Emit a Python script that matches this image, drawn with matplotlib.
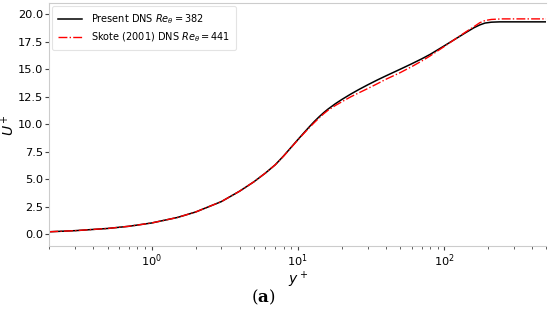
import numpy as np
import matplotlib
matplotlib.use("Agg")
import matplotlib.pyplot as plt

# Present DNS (Re_theta = 382)
yplus_present = [0.2, 0.3, 0.5, 0.7, 1.0, 1.5, 2.0, 3.0, 4.0, 5.0, 6.0, 7.0, 8.0, 9.0,
                 10.0, 11.0, 12.0, 13.0, 14.0, 15.0, 16.0, 18.0, 20.0, 23.0, 26.0,
                 30.0, 35.0, 40.0, 50.0, 60.0, 70.0, 80.0, 100.0, 120.0, 140.0,
                 160.0, 175.0, 190.0, 210.0, 240.0, 300.0, 500.0]
u_present = [0.2, 0.3, 0.5, 0.7, 1.0, 1.5, 2.0, 2.95, 3.9, 4.75, 5.55, 6.3, 7.12, 7.9,
             8.6, 9.22, 9.78, 10.27, 10.69, 11.05, 11.36, 11.86, 12.26, 12.75, 13.15,
             13.59, 14.04, 14.41, 15.01, 15.51, 15.95, 16.36, 17.14, 17.79, 18.34,
             18.8, 19.05, 19.22, 19.3, 19.33, 19.33, 19.33]

# Skote (2001) DNS (Re_theta = 441)
yplus_skote = [0.2, 0.3, 0.5, 0.7, 1.0, 1.5, 2.0, 3.0, 4.0, 5.0, 6.0, 7.0, 8.0, 9.0,
               10.0, 11.0, 12.0, 13.0, 14.0, 15.0, 16.0, 18.0, 20.0, 23.0, 26.0,
               30.0, 35.0, 40.0, 50.0, 60.0, 70.0, 80.0, 100.0, 120.0, 140.0,
               160.0, 175.0, 190.0, 210.0, 250.0, 300.0, 500.0]
u_skote = [0.2, 0.3, 0.5, 0.7, 1.0, 1.5, 2.0, 2.95, 3.9, 4.75, 5.55, 6.3, 7.1, 7.88,
           8.57, 9.17, 9.7, 10.17, 10.58, 10.95, 11.25, 11.7, 12.05, 12.5, 12.85,
           13.25, 13.7, 14.1, 14.7, 15.25, 15.75, 16.22, 17.08, 17.8, 18.4,
           18.9, 19.25, 19.45, 19.55, 19.6, 19.6, 19.6]

labels = [r"Present DNS $Re_{\theta} = 382$", r"Skote (2001) DNS $Re_{\theta} = 441$"]

fig = plt.figure(figsize=(5.5, 3.15), dpi=100)
ax = fig.add_axes([0.0896, 0.22, 0.904, 0.7695])

ax.plot(yplus_present, u_present, color="black", lw=1.1, ls="-", label=labels[0])
ax.plot(yplus_skote, u_skote, color="red", lw=1.0, ls="-.", label=labels[1])

ax.set_xscale("log")
ax.set_xlim(0.2, 500)
ax.set_ylim(-1.07, 21.02)
ax.set_yticks(np.arange(0, 20.1, 2.5))

for side in ["left", "bottom", "top"]:
    ax.spines[side].set_color("#cccccc")
ax.spines["right"].set_visible(False)
ax.tick_params(axis="both", which="major", length=3, width=0.8, color="#444444",
               labelsize=8.2, pad=1.5)
ax.tick_params(axis="x", which="minor", length=2, width=0.6, color="#444444")

ax.set_xlabel(r"$y^+$", fontsize=10)
ax.set_ylabel(r"$U^+$", fontsize=10)
ax.yaxis.set_label_coords(-0.064, 0.5)
ax.xaxis.set_label_coords(0.5, -0.097)

leg = ax.legend(loc="upper left", fontsize=7, frameon=True, borderpad=0.6,
                handlelength=2.5, handletextpad=0.9, labelspacing=0.5,
                borderaxespad=0.3)
leg.get_frame().set_edgecolor("#dddddd")
leg.get_frame().set_linewidth(0.8)

fig.text(0.478, 0.057, r"$\mathrm{(}\mathbf{a}\mathrm{)}$", fontsize=12, ha="center",
         va="center", math_fontfamily="dejavuserif")

fig.savefig("out.png", dpi=100)
